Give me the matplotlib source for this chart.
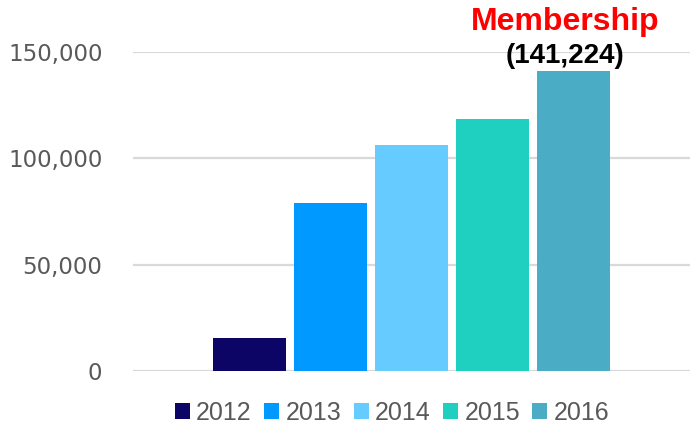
import matplotlib
matplotlib.use("Agg")
import matplotlib.pyplot as plt
from matplotlib.ticker import FuncFormatter

years = ["2012", "2013", "2014", "2015", "2016"]
members = [15500, 79000, 106400, 118300, 141224]
colors = ["#0D0566", "#0099FF", "#66CCFF", "#1FCFC0", "#4BACC6"]
yticks = [0, 50000, 100000, 150000]

fig = plt.figure(figsize=(6.92, 4.33), dpi=100)
ax = fig.add_axes([133 / 692, 1 - 371 / 433, 557 / 692, 319 / 433])

# one category, five series side by side
width = 0.131
step = 0.1455
for i, (yr, v, c) in enumerate(zip(years, members, colors)):
    ax.bar((i - 2) * step, v, width=width, color=c, label=yr, zorder=3)

ax.set_xlim(-0.5, 0.5)
ax.set_ylim(0, 150000)
ax.set_yticks(yticks)
ax.yaxis.set_major_formatter(FuncFormatter(lambda v, _: f"{int(v):,}"))
ax.grid(axis="y", color="#D9D9D9", linewidth=1.6, zorder=0)
ax.set_xticks([])
ax.tick_params(axis="y", length=0, pad=22, labelsize=16.5, labelcolor="#595959")
for s in ax.spines.values():
    s.set_visible(False)
ax.set_axisbelow(True)

top_x = (len(years) - 3) * step - 0.015
ax.annotate(f"({members[-1]:,})", xy=(top_x, members[-1]), xytext=(0, 1),
            textcoords="offset points", ha="center", va="bottom",
            fontsize=20, fontweight="bold", color="black",
            family="Liberation Sans", annotation_clip=False)
ax.annotate("Membership", xy=(top_x, members[-1]), xytext=(0, 24),
            textcoords="offset points", ha="center", va="bottom",
            fontsize=23, fontweight="bold", color="#FF0000",
            family="Liberation Sans", annotation_clip=False)

leg = fig.legend(loc="center", bbox_to_anchor=(392 / 692, 1 - 413 / 433), ncol=5,
                 frameon=False, handlelength=0.6, handleheight=0.6,
                 handletextpad=0.25, columnspacing=0.5,
                 prop={"family": "Liberation Sans", "size": 18})
for t in leg.get_texts():
    t.set_color("#595959")

fig.savefig("out.png", dpi=100)
